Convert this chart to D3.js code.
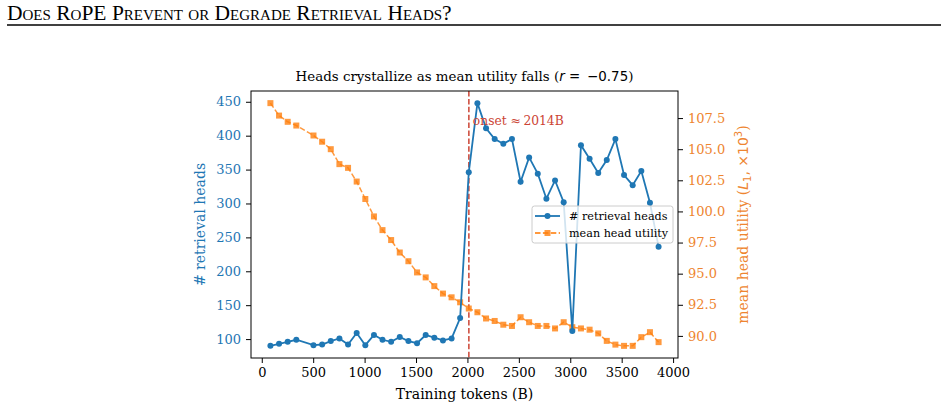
<!DOCTYPE html>
<html>
<head>
<meta charset="utf-8">
<script src="https://cdn.jsdelivr.net/npm/d3@7"></script>
<style>
  body { margin: 0; background: #fff; }
  svg text { font-family: "DejaVu Serif", serif; }
</style>
</head>
<body>
<svg id="chart" width="948" height="409"></svg>
<script>
// checkpoints, in billions of training tokens
const tokens = [84, 168, 252, 336, 503, 587, 671, 755, 839, 923, 1007, 1091, 1174, 1258, 1342,
  1426, 1510, 1594, 1678, 1762, 1846, 1929, 2013, 2097, 2181, 2265, 2349, 2433, 2517, 2600,
  2684, 2768, 2852, 2936, 3020, 3104, 3188, 3272, 3355, 3439, 3523, 3607, 3691, 3775, 3859];
const retrievalHeads = [90, 93, 96, 99, 91, 92, 97, 101, 92, 109, 91, 106, 99, 96, 103,
  97, 94, 106, 102, 98, 101, 131, 346, 448, 411, 395, 388, 395, 332, 368,
  344, 307, 334, 302, 112, 386, 366, 345, 364, 395, 342, 327, 348, 301, 236];
const meanUtility = [108.7, 107.7, 107.2, 106.9, 106.1, 105.6, 105.0, 103.8, 103.5, 102.4, 101.0, 99.6, 98.5, 97.7, 96.7,
  96.0, 95.1, 94.7, 94.0, 93.4, 93.1, 92.7, 92.2, 91.9, 91.4, 91.2, 90.9, 90.8, 91.5, 91.1,
  90.8, 90.8, 90.6, 91.1, 90.7, 90.6, 90.5, 90.2, 89.6, 89.3, 89.2, 89.2, 89.9, 90.3, 89.5];
const xTicks = [0, 500, 1000, 1500, 2000, 2500, 3000, 3500, 4000];
const leftTicks = [100, 150, 200, 250, 300, 350, 400, 450];
const rightTicks = [90.0, 92.5, 95.0, 97.5, 100.0, 102.5, 105.0, 107.5];
const onset = 2014;

const blue = "#1f77b4", orange = "#ff7f0e", red = "#cc4434", orangeText = "#ee8530";
const svg = d3.select("#chart");
const L = 251, R = 678, T = 91, B = 358;

function padded(vals) {
  const [a, b] = d3.extent(vals);
  const m = (b - a) * 0.05;
  return [a - m, b + m];
}

const x = d3.scaleLinear().domain(padded(tokens)).range([L, R]);
const yL = d3.scaleLinear().domain(padded(retrievalHeads)).range([B, T]);
const yR = d3.scaleLinear().domain(padded(meanUtility)).range([B, T]);

// header
svg.append("text")
  .attr("x", 7).attr("y", 20)
  .style("font-family", "'Liberation Serif', serif")
  .style("font-size", "21.5px")
  .style("font-variant", "small-caps")
  .text("Does RoPE Prevent or Degrade Retrieval Heads?");
svg.append("line")
  .attr("x1", 7).attr("x2", 941).attr("y1", 25).attr("y2", 25)
  .attr("stroke", "#000").attr("stroke-width", 1.3);

// title
const title = svg.append("text")
  .attr("x", (L + R) / 2).attr("y", 81)
  .attr("text-anchor", "middle")
  .style("font-size", "13.4px");
title.append("tspan").text("Heads crystallize as mean utility falls (");
title.append("tspan").style("font-style", "italic").style("font-family", "'DejaVu Sans'").text("r");
title.append("tspan").style("font-family", "'DejaVu Sans'").text(" = \u2009\u22120.75");
title.append("tspan").text(")");

const plot = svg.append("g");

// onset line
plot.append("line")
  .attr("x1", x(onset)).attr("x2", x(onset))
  .attr("y1", T).attr("y2", B)
  .attr("stroke", red)
  .attr("stroke-width", 1.5).attr("stroke-dasharray", "5.5,2.4");

// utility series (right axis)
const lineR = d3.line().x((d, i) => x(tokens[i])).y(d => yR(d));
plot.append("path").datum(meanUtility)
  .attr("fill", "none").attr("stroke", orange).attr("stroke-opacity", 0.8)
  .attr("stroke-width", 1.5).attr("stroke-dasharray", "5.5,2.4")
  .attr("d", lineR);
plot.selectAll(".sq").data(meanUtility).join("rect")
  .attr("x", (d, i) => x(tokens[i]) - 3).attr("y", d => yR(d) - 3)
  .attr("width", 6).attr("height", 6)
  .attr("fill", orange).attr("fill-opacity", 0.8);

// retrieval heads series (left axis)
const lineL = d3.line().x((d, i) => x(tokens[i])).y(d => yL(d));
plot.append("path").datum(retrievalHeads)
  .attr("fill", "none").attr("stroke", blue).attr("stroke-width", 1.8)
  .attr("d", lineL);
plot.selectAll(".dot").data(retrievalHeads).join("circle")
  .attr("cx", (d, i) => x(tokens[i])).attr("cy", d => yL(d))
  .attr("r", 3).attr("fill", blue);

// onset label
svg.append("text")
  .attr("x", x(onset) + 4).attr("y", 125)
  .attr("fill", red)
  .style("font-size", "12.3px")
  .text("onset \u2248\u20092014B");

// frame
svg.append("rect")
  .attr("x", L).attr("y", T).attr("width", R - L).attr("height", B - T)
  .attr("fill", "none").attr("stroke", "#000").attr("stroke-width", 1);

// axes
function styleAxis(g, color) {
  g.select(".domain").remove();
  g.selectAll(".tick line").attr("stroke", "#000");
  g.selectAll(".tick text").attr("fill", color)
    .style("font-family", "'DejaVu Serif', serif").style("font-size", "13px");
}
svg.append("g").attr("transform", `translate(0,${B})`)
  .call(d3.axisBottom(x).tickValues(xTicks).tickSize(5).tickPadding(5).tickFormat(d3.format("d")))
  .call(g => styleAxis(g, "#000"));
svg.append("g").attr("transform", `translate(${L},0)`)
  .call(d3.axisLeft(yL).tickValues(leftTicks).tickSize(5).tickPadding(5).tickFormat(d3.format("d")))
  .call(g => styleAxis(g, blue));
svg.append("g").attr("transform", `translate(${R},0)`)
  .call(d3.axisRight(yR).tickValues(rightTicks).tickSize(5).tickPadding(5).tickFormat(d3.format(".1f")))
  .call(g => styleAxis(g, orangeText));

// axis labels
svg.append("text")
  .attr("x", (L + R) / 2).attr("y", 399)
  .attr("text-anchor", "middle").style("font-size", "14px")
  .text("Training tokens (B)");
svg.append("text")
  .attr("transform", `translate(205,${(T + B) / 2}) rotate(-90)`)
  .attr("text-anchor", "middle").attr("fill", blue).style("font-size", "14px")
  .text("# retrieval heads");
const rl = svg.append("text")
  .attr("transform", `translate(748,${(T + B) / 2}) rotate(-90)`)
  .attr("text-anchor", "middle").attr("fill", orangeText).style("font-size", "14px");
rl.append("tspan").text("mean head utility (");
rl.append("tspan").style("font-style", "italic").style("font-family", "'DejaVu Sans'").text("L");
rl.append("tspan").style("font-size", "10px").attr("dy", 3).style("font-family", "'DejaVu Sans'").text("1");
rl.append("tspan").attr("dy", -3).style("font-family", "'DejaVu Sans'").text(", \u00d710");
rl.append("tspan").style("font-size", "10px").attr("dy", -6).style("font-family", "'DejaVu Sans'").text("3");
rl.append("tspan").attr("dy", 6).text(")");

// legend
const lg = svg.append("g").attr("transform", "translate(532,206)");
lg.append("rect").attr("width", 141).attr("height", 37).attr("rx", 2.5)
  .attr("fill", "#fff").attr("fill-opacity", 0.8)
  .attr("stroke", "#ccc").attr("stroke-width", 1);
const items = [
  { label: "# retrieval heads", color: blue, dash: null, shape: "circle", op: 1 },
  { label: "mean head utility", color: orange, dash: "5.5,2.4", shape: "square", op: 0.8 }
];
items.forEach((it, i) => {
  const yy = 10 + i * 17;
  lg.append("line").attr("x1", 3).attr("x2", 28).attr("y1", yy).attr("y2", yy)
    .attr("stroke", it.color).attr("stroke-width", 1.8).attr("stroke-opacity", it.op)
    .attr("stroke-dasharray", it.dash);
  if (it.shape === "circle") {
    lg.append("circle").attr("cx", 15.5).attr("cy", yy).attr("r", 3).attr("fill", it.color);
  } else {
    lg.append("rect").attr("x", 12.5).attr("y", yy - 3).attr("width", 6).attr("height", 6)
      .attr("fill", it.color).attr("fill-opacity", it.op);
  }
  lg.append("text").attr("x", 37).attr("y", yy + 4)
    .style("font-size", "11.2px").text(it.label);
});
</script>
</body>
</html>
